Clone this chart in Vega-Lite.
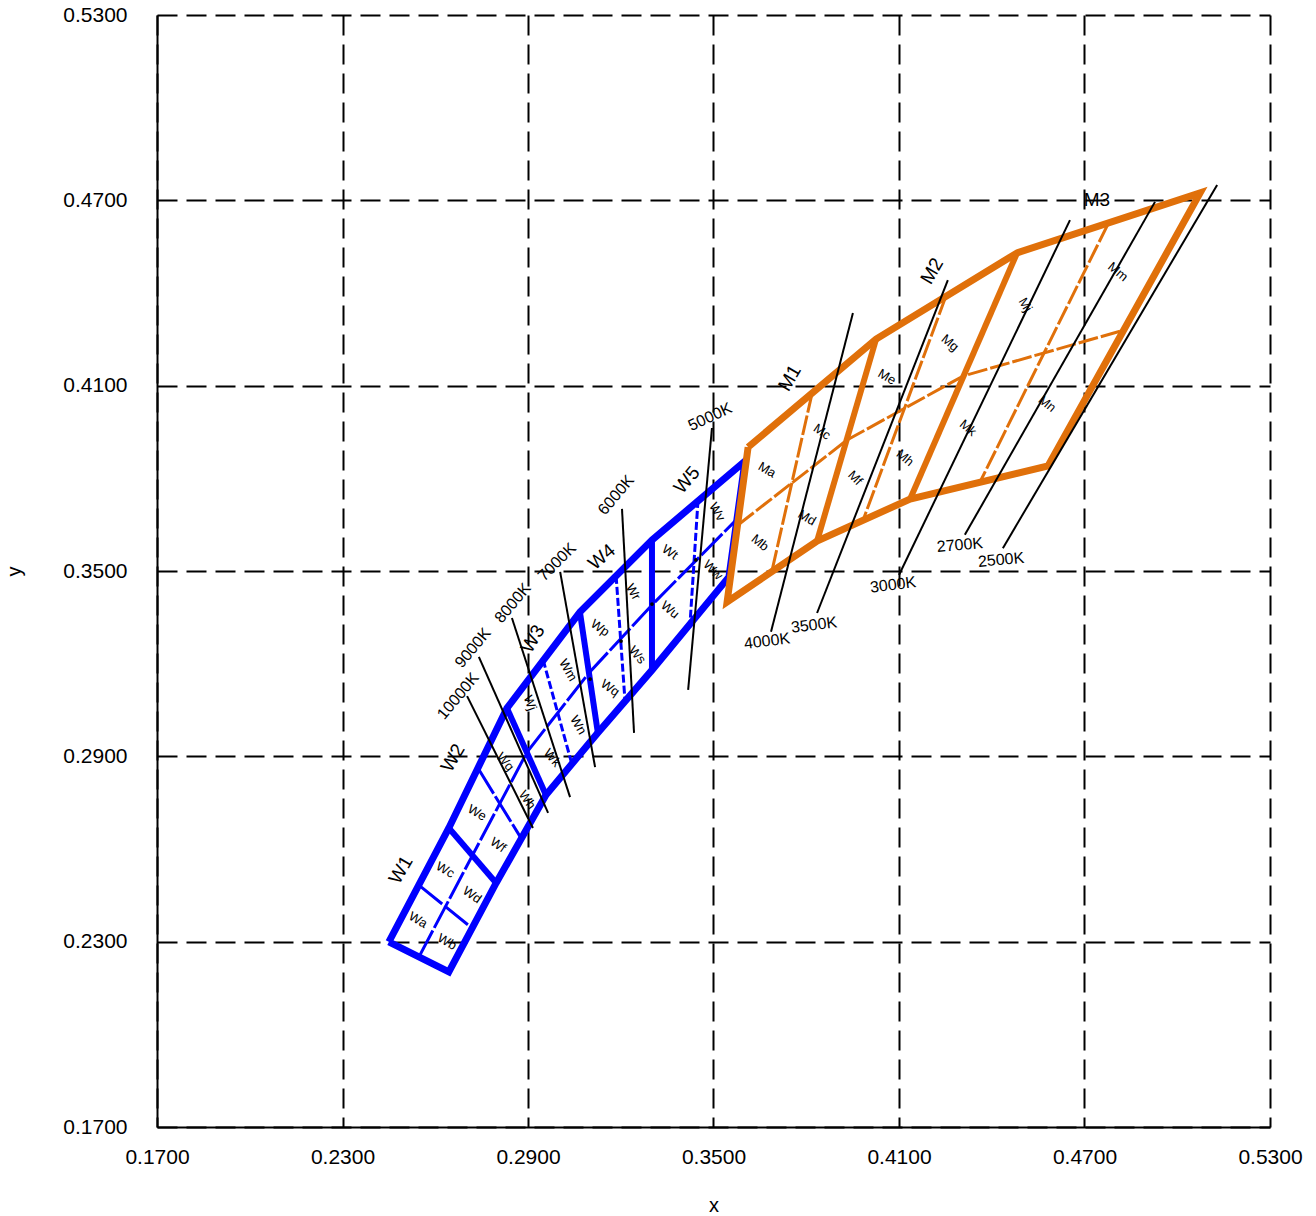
{
  "$schema": "https://vega.github.io/schema/vega-lite/v6.json",
  "width": 1113,
  "height": 1112,
  "autosize": {"type": "none"},
  "padding": {"left": 157, "top": 15, "right": 46, "bottom": 89},
  "background": "white",
  "config": {
    "view": {"stroke": null},
    "font": "Liberation Sans",
    "axis": {
      "grid": true,
      "gridDash": [20, 9],
      "gridColor": "black",
      "gridWidth": 2,
      "gridOpacity": 1,
      "ticks": false,
      "domainColor": "black",
      "domainWidth": 2,
      "labelFont": "Liberation Sans",
      "labelFontSize": 21,
      "labelColor": "black",
      "labelFlush": false,
      "labelOverlap": false,
      "titleFont": "Liberation Sans",
      "titleFontSize": 20,
      "titleFontWeight": "normal",
      "titleColor": "black"
    }
  },
  "datasets": {
    "lines": [
      {"g": "wout", "id": "wo", "o": 1, "x": 0.2450, "y": 0.2299},
      {"g": "wout", "id": "wo", "o": 2, "x": 0.2644, "y": 0.2202},
      {"g": "wout", "id": "wo", "o": 3, "x": 0.2797, "y": 0.2490},
      {"g": "wout", "id": "wo", "o": 4, "x": 0.2958, "y": 0.2775},
      {"g": "wout", "id": "wo", "o": 5, "x": 0.3126, "y": 0.2976},
      {"g": "wout", "id": "wo", "o": 6, "x": 0.3301, "y": 0.3179},
      {"g": "wout", "id": "wo", "o": 7, "x": 0.3550, "y": 0.3481},
      {"g": "wout", "id": "wo", "o": 8, "x": 0.3602, "y": 0.3856},
      {"g": "wout", "id": "wo", "o": 9, "x": 0.3301, "y": 0.3600},
      {"g": "wout", "id": "wo", "o": 10, "x": 0.3068, "y": 0.3367},
      {"g": "wout", "id": "wo", "o": 11, "x": 0.2832, "y": 0.3056},
      {"g": "wout", "id": "wo", "o": 12, "x": 0.2644, "y": 0.2668},
      {"g": "wout", "id": "wo", "o": 13, "x": 0.2450, "y": 0.2299},

      {"g": "wb", "id": "wb1", "o": 1, "x": 0.2644, "y": 0.2668},
      {"g": "wb", "id": "wb1", "o": 2, "x": 0.2797, "y": 0.2490},
      {"g": "wb", "id": "wb2", "o": 1, "x": 0.2832, "y": 0.3056},
      {"g": "wb", "id": "wb2", "o": 2, "x": 0.2958, "y": 0.2775},
      {"g": "wb", "id": "wb3", "o": 1, "x": 0.3068, "y": 0.3367},
      {"g": "wb", "id": "wb3", "o": 2, "x": 0.3126, "y": 0.2976},
      {"g": "wb", "id": "wb4", "o": 1, "x": 0.3301, "y": 0.3600},
      {"g": "wb", "id": "wb4", "o": 2, "x": 0.3301, "y": 0.3179},

      {"g": "wd", "id": "wl", "o": 1, "x": 0.2547, "y": 0.2250},
      {"g": "wd", "id": "wl", "o": 2, "x": 0.2719, "y": 0.2577},
      {"g": "wd", "id": "wl", "o": 3, "x": 0.2897, "y": 0.2914},
      {"g": "wd", "id": "wl", "o": 4, "x": 0.3097, "y": 0.3170},
      {"g": "wd", "id": "wl", "o": 5, "x": 0.3301, "y": 0.3390},
      {"g": "wd", "id": "wl", "o": 6, "x": 0.3576, "y": 0.3668},
      {"g": "wd", "id": "wc1", "o": 1, "x": 0.2547, "y": 0.2483},
      {"g": "wd", "id": "wc1", "o": 2, "x": 0.2719, "y": 0.2344},
      {"g": "wd", "id": "wc2", "o": 1, "x": 0.2738, "y": 0.2862},
      {"g": "wd", "id": "wc2", "o": 2, "x": 0.2877, "y": 0.2636},

      {"g": "wdd", "id": "wc3", "o": 1, "x": 0.2949, "y": 0.3212},
      {"g": "wdd", "id": "wc3", "o": 2, "x": 0.3042, "y": 0.2875},
      {"g": "wdd", "id": "wc4", "o": 1, "x": 0.3185, "y": 0.3484},
      {"g": "wdd", "id": "wc4", "o": 2, "x": 0.3214, "y": 0.3076},
      {"g": "wdd", "id": "wc5", "o": 1, "x": 0.3450, "y": 0.3730},
      {"g": "wdd", "id": "wc5", "o": 2, "x": 0.3424, "y": 0.3328},

      {"g": "mout", "id": "mo", "o": 1, "x": 0.3612, "y": 0.3901},
      {"g": "mout", "id": "mo", "o": 2, "x": 0.4026, "y": 0.4251},
      {"g": "mout", "id": "mo", "o": 3, "x": 0.4482, "y": 0.4530},
      {"g": "mout", "id": "mo", "o": 4, "x": 0.5074, "y": 0.4724},
      {"g": "mout", "id": "mo", "o": 5, "x": 0.4582, "y": 0.3840},
      {"g": "mout", "id": "mo", "o": 6, "x": 0.4136, "y": 0.3733},
      {"g": "mout", "id": "mo", "o": 7, "x": 0.3835, "y": 0.3597},
      {"g": "mout", "id": "mo", "o": 8, "x": 0.3544, "y": 0.3400},
      {"g": "mout", "id": "mo", "o": 9, "x": 0.3612, "y": 0.3901},

      {"g": "mb", "id": "mb1", "o": 1, "x": 0.4026, "y": 0.4251},
      {"g": "mb", "id": "mb1", "o": 2, "x": 0.3835, "y": 0.3597},
      {"g": "mb", "id": "mb2", "o": 1, "x": 0.4482, "y": 0.4530},
      {"g": "mb", "id": "mb2", "o": 2, "x": 0.4136, "y": 0.3733},

      {"g": "md", "id": "ml", "o": 1, "x": 0.3579, "y": 0.3649},
      {"g": "md", "id": "ml", "o": 2, "x": 0.3932, "y": 0.3924},
      {"g": "md", "id": "ml", "o": 3, "x": 0.4307, "y": 0.4131},
      {"g": "md", "id": "ml", "o": 4, "x": 0.4828, "y": 0.4280},
      {"g": "md", "id": "mc1", "o": 1, "x": 0.3819, "y": 0.4076},
      {"g": "md", "id": "mc1", "o": 2, "x": 0.3689, "y": 0.3500},
      {"g": "md", "id": "mc2", "o": 1, "x": 0.4252, "y": 0.4390},
      {"g": "md", "id": "mc2", "o": 2, "x": 0.3984, "y": 0.3665},
      {"g": "md", "id": "mc3", "o": 1, "x": 0.4776, "y": 0.4623},
      {"g": "md", "id": "mc3", "o": 2, "x": 0.4362, "y": 0.3788},

      {"g": "cct", "id": "c10000", "o": 1, "x": 0.2703, "y": 0.3095},
      {"g": "cct", "id": "c10000", "o": 2, "x": 0.2916, "y": 0.2668},
      {"g": "cct", "id": "c9000", "o": 1, "x": 0.2741, "y": 0.3222},
      {"g": "cct", "id": "c9000", "o": 2, "x": 0.2965, "y": 0.2717},
      {"g": "cct", "id": "c8000", "o": 1, "x": 0.2848, "y": 0.3348},
      {"g": "cct", "id": "c8000", "o": 2, "x": 0.3036, "y": 0.2768},
      {"g": "cct", "id": "c7000", "o": 1, "x": 0.3004, "y": 0.3497},
      {"g": "cct", "id": "c7000", "o": 2, "x": 0.3117, "y": 0.2865},
      {"g": "cct", "id": "c6000", "o": 1, "x": 0.3204, "y": 0.3701},
      {"g": "cct", "id": "c6000", "o": 2, "x": 0.3243, "y": 0.2976},
      {"g": "cct", "id": "c5000", "o": 1, "x": 0.3495, "y": 0.3963},
      {"g": "cct", "id": "c5000", "o": 2, "x": 0.3418, "y": 0.3115},
      {"g": "cct", "id": "c4000", "o": 1, "x": 0.3686, "y": 0.3303},
      {"g": "cct", "id": "c4000", "o": 2, "x": 0.3951, "y": 0.4335},
      {"g": "cct", "id": "c3500", "o": 1, "x": 0.3835, "y": 0.3364},
      {"g": "cct", "id": "c3500", "o": 2, "x": 0.4258, "y": 0.4442},
      {"g": "cct", "id": "c3000", "o": 1, "x": 0.4100, "y": 0.3487},
      {"g": "cct", "id": "c3000", "o": 2, "x": 0.4653, "y": 0.4636},
      {"g": "cct", "id": "c2700", "o": 1, "x": 0.4313, "y": 0.3617},
      {"g": "cct", "id": "c2700", "o": 2, "x": 0.4928, "y": 0.4695},
      {"g": "cct", "id": "c2500", "o": 1, "x": 0.4436, "y": 0.3574},
      {"g": "cct", "id": "c2500", "o": 2, "x": 0.5129, "y": 0.4750}
    ],
    "dots": [
      {"x": 0.3101, "y": 0.3150},
      {"x": 0.3201, "y": 0.3273},
      {"x": 0.3301, "y": 0.3393},
      {"x": 0.3443, "y": 0.3536}
    ],
    "labels": [
      {"k": "big", "t": "W1", "x": 0.2489, "y": 0.2532, "a": 300},
      {"k": "big", "t": "W2", "x": 0.2657, "y": 0.2895, "a": 300},
      {"k": "big", "t": "W3", "x": 0.2916, "y": 0.3280, "a": 300},
      {"k": "big", "t": "W4", "x": 0.3139, "y": 0.3545, "a": 320},
      {"k": "big", "t": "W5", "x": 0.3414, "y": 0.3795, "a": 310},
      {"k": "big", "t": "M1", "x": 0.3747, "y": 0.4125, "a": 300},
      {"k": "big", "t": "M2", "x": 0.4207, "y": 0.4471, "a": 300},
      {"k": "big", "t": "M3", "x": 0.4740, "y": 0.4701, "a": 0},

      {"k": "cct", "t": "10000K", "x": 0.2674, "y": 0.3095, "a": 310},
      {"k": "cct", "t": "9000K", "x": 0.2722, "y": 0.3251, "a": 310},
      {"k": "cct", "t": "8000K", "x": 0.2851, "y": 0.3396, "a": 310},
      {"k": "cct", "t": "7000K", "x": 0.2994, "y": 0.3529, "a": 315},
      {"k": "cct", "t": "6000K", "x": 0.3185, "y": 0.3746, "a": 310},
      {"k": "cct", "t": "5000K", "x": 0.3489, "y": 0.3999, "a": 335},
      {"k": "cct", "t": "4000K", "x": 0.3673, "y": 0.3273, "a": 353},
      {"k": "cct", "t": "3500K", "x": 0.3825, "y": 0.3325, "a": 353},
      {"k": "cct", "t": "3000K", "x": 0.4081, "y": 0.3455, "a": 353},
      {"k": "cct", "t": "2700K", "x": 0.4297, "y": 0.3584, "a": 355},
      {"k": "cct", "t": "2500K", "x": 0.4430, "y": 0.3536, "a": 355},

      {"k": "sub", "t": "Wa", "x": 0.2544, "y": 0.2370, "a": 30},
      {"k": "sub", "t": "Wb", "x": 0.2638, "y": 0.2299, "a": 30},
      {"k": "sub", "t": "Wc", "x": 0.2632, "y": 0.2532, "a": 30},
      {"k": "sub", "t": "Wd", "x": 0.2719, "y": 0.2451, "a": 35},
      {"k": "sub", "t": "We", "x": 0.2735, "y": 0.2717, "a": 30},
      {"k": "sub", "t": "Wf", "x": 0.2803, "y": 0.2613, "a": 35},
      {"k": "sub", "t": "Wg", "x": 0.2826, "y": 0.2882, "a": 50},
      {"k": "sub", "t": "Wh", "x": 0.2897, "y": 0.2759, "a": 55},
      {"k": "sub", "t": "Wj", "x": 0.2906, "y": 0.3073, "a": 70},
      {"k": "sub", "t": "Wk", "x": 0.2978, "y": 0.2895, "a": 50},
      {"k": "sub", "t": "Wm", "x": 0.3029, "y": 0.3179, "a": 60},
      {"k": "sub", "t": "Wn", "x": 0.3062, "y": 0.3001, "a": 60},
      {"k": "sub", "t": "Wp", "x": 0.3133, "y": 0.3315, "a": 35},
      {"k": "sub", "t": "Wq", "x": 0.3165, "y": 0.3121, "a": 35},
      {"k": "sub", "t": "Wr", "x": 0.3240, "y": 0.3432, "a": 60},
      {"k": "sub", "t": "Ws", "x": 0.3253, "y": 0.3228, "a": 50},
      {"k": "sub", "t": "Wt", "x": 0.3359, "y": 0.3561, "a": 35},
      {"k": "sub", "t": "Wu", "x": 0.3359, "y": 0.3374, "a": 40},
      {"k": "sub", "t": "Wv", "x": 0.3511, "y": 0.3691, "a": 60},
      {"k": "sub", "t": "Ww", "x": 0.3498, "y": 0.3503, "a": 45},
      {"k": "sub", "t": "Ma", "x": 0.3673, "y": 0.3827, "a": 30},
      {"k": "sub", "t": "Mb", "x": 0.3650, "y": 0.3591, "a": 40},
      {"k": "sub", "t": "Mc", "x": 0.3851, "y": 0.3950, "a": 35},
      {"k": "sub", "t": "Md", "x": 0.3802, "y": 0.3672, "a": 30},
      {"k": "sub", "t": "Me", "x": 0.4061, "y": 0.4128, "a": 30},
      {"k": "sub", "t": "Mf", "x": 0.3958, "y": 0.3801, "a": 45},
      {"k": "sub", "t": "Mg", "x": 0.4265, "y": 0.4238, "a": 40},
      {"k": "sub", "t": "Mh", "x": 0.4119, "y": 0.3866, "a": 40},
      {"k": "sub", "t": "Mj", "x": 0.4508, "y": 0.4361, "a": 60},
      {"k": "sub", "t": "Mk", "x": 0.4323, "y": 0.3963, "a": 40},
      {"k": "sub", "t": "Mm", "x": 0.4808, "y": 0.4468, "a": 40},
      {"k": "sub", "t": "Mn", "x": 0.4579, "y": 0.4041, "a": 40}
    ]
  },
  "encoding": {
    "x": {
      "field": "x", "type": "quantitative",
      "scale": {"domain": [0.17, 0.53], "nice": false, "zero": false},
      "axis": {"values": [0.17, 0.23, 0.29, 0.35, 0.41, 0.47, 0.53], "format": ".4f", "title": "x", "labelPadding": 19, "titlePadding": 28}
    },
    "y": {
      "field": "y", "type": "quantitative",
      "scale": {"domain": [0.17, 0.53], "nice": false, "zero": false},
      "axis": {"values": [0.17, 0.23, 0.29, 0.35, 0.41, 0.47, 0.53], "format": ".4f", "title": "y", "labelPadding": 30, "titlePadding": 38}
    }
  },
  "layer": [
    {
      "data": {"name": "lines"},
      "transform": [{"filter": "datum.g === 'wout'"}],
      "mark": {"type": "line", "stroke": "#0000ff", "strokeWidth": 7, "strokeJoin": "miter"},
      "encoding": {"detail": {"field": "id"}, "order": {"field": "o", "type": "quantitative"}}
    },
    {
      "data": {"name": "lines"},
      "transform": [{"filter": "datum.g === 'wb'"}],
      "mark": {"type": "line", "stroke": "#0000ff", "strokeWidth": 6},
      "encoding": {"detail": {"field": "id"}, "order": {"field": "o", "type": "quantitative"}}
    },
    {
      "data": {"name": "lines"},
      "transform": [{"filter": "datum.g === 'wd'"}],
      "mark": {"type": "line", "stroke": "#0000ff", "strokeWidth": 3, "strokeDash": [30, 3]},
      "encoding": {"detail": {"field": "id"}, "order": {"field": "o", "type": "quantitative"}}
    },
    {
      "data": {"name": "lines"},
      "transform": [{"filter": "datum.g === 'wdd'"}],
      "mark": {"type": "line", "stroke": "#0000ff", "strokeWidth": 3, "strokeDash": [8, 3]},
      "encoding": {"detail": {"field": "id"}, "order": {"field": "o", "type": "quantitative"}}
    },
    {
      "data": {"name": "lines"},
      "transform": [{"filter": "datum.g === 'mout'"}],
      "mark": {"type": "line", "stroke": "#e0700a", "strokeWidth": 7, "strokeJoin": "miter"},
      "encoding": {"detail": {"field": "id"}, "order": {"field": "o", "type": "quantitative"}}
    },
    {
      "data": {"name": "lines"},
      "transform": [{"filter": "datum.g === 'mb'"}],
      "mark": {"type": "line", "stroke": "#e0700a", "strokeWidth": 6},
      "encoding": {"detail": {"field": "id"}, "order": {"field": "o", "type": "quantitative"}}
    },
    {
      "data": {"name": "lines"},
      "transform": [{"filter": "datum.g === 'md'"}],
      "mark": {"type": "line", "stroke": "#e0700a", "strokeWidth": 3, "strokeDash": [20, 3]},
      "encoding": {"detail": {"field": "id"}, "order": {"field": "o", "type": "quantitative"}}
    },
    {
      "data": {"name": "lines"},
      "transform": [{"filter": "datum.g === 'cct'"}],
      "mark": {"type": "line", "stroke": "black", "strokeWidth": 2},
      "encoding": {"detail": {"field": "id"}, "order": {"field": "o", "type": "quantitative"}}
    },
    {
      "data": {"name": "dots"},
      "mark": {"type": "point", "filled": true, "color": "black", "size": 14, "opacity": 1}
    },
    {
      "data": {"name": "labels"},
      "transform": [{"filter": "datum.k === 'big'"}],
      "mark": {"type": "text", "fontSize": 19, "color": "black", "align": "center", "baseline": "middle", "font": "Liberation Sans"},
      "encoding": {"text": {"field": "t"}, "angle": {"field": "a", "type": "quantitative", "scale": {"domain": [0, 360], "range": [0, 360]}}}
    },
    {
      "data": {"name": "labels"},
      "transform": [{"filter": "datum.k === 'cct'"}],
      "mark": {"type": "text", "fontSize": 16, "color": "black", "align": "center", "baseline": "middle", "font": "Liberation Sans"},
      "encoding": {"text": {"field": "t"}, "angle": {"field": "a", "type": "quantitative", "scale": {"domain": [0, 360], "range": [0, 360]}}}
    },
    {
      "data": {"name": "labels"},
      "transform": [{"filter": "datum.k === 'sub'"}],
      "mark": {"type": "text", "fontSize": 13, "color": "black", "align": "center", "baseline": "middle", "font": "Liberation Sans"},
      "encoding": {"text": {"field": "t"}, "angle": {"field": "a", "type": "quantitative", "scale": {"domain": [0, 360], "range": [0, 360]}}}
    }
  ]
}
